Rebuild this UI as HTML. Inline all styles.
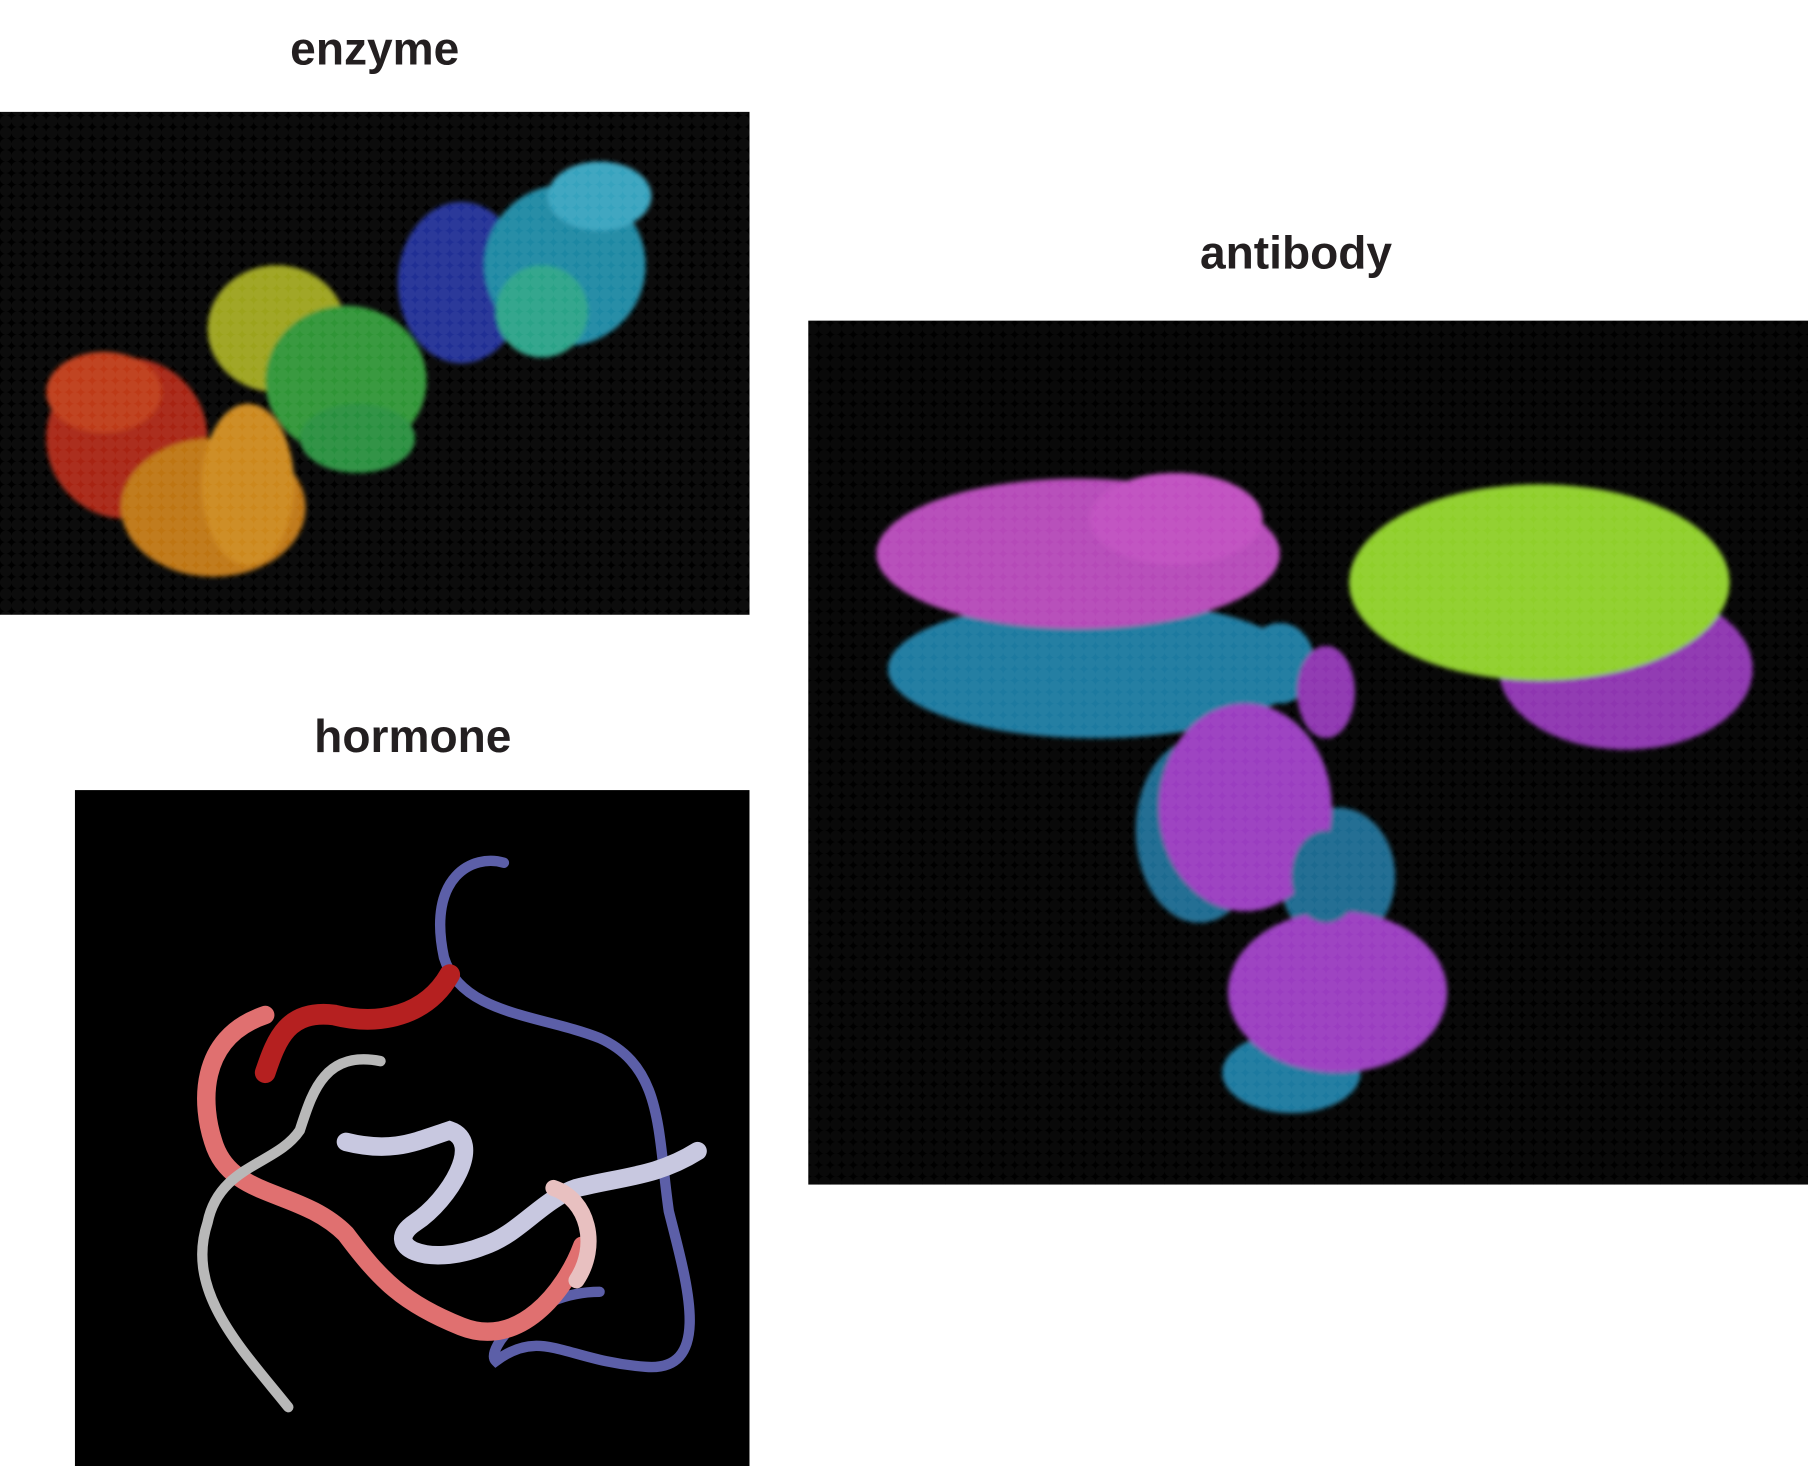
<!DOCTYPE html>
<html><head><meta charset="utf-8"><style>
html,body{margin:0;padding:0;background:#fff;}
svg{display:block;}
</style></head><body>
<svg width="1808" height="1466" viewBox="0 0 1568 1271" preserveAspectRatio="none" xmlns="http://www.w3.org/2000/svg">
<defs>
<filter id="blur2"><feGaussianBlur stdDeviation="2"/></filter>
<pattern id="dots" width="10" height="10" patternUnits="userSpaceOnUse"><circle cx="5" cy="5" r="5" fill="rgba(255,255,255,0.12)"/></pattern>
</defs>
<text x="325" y="56" text-anchor="middle" font-family="Liberation Sans, sans-serif" font-weight="bold" font-size="40" fill="#231f20">enzyme</text>
<text x="358" y="652" text-anchor="middle" font-family="Liberation Sans, sans-serif" font-weight="bold" font-size="40" fill="#231f20">hormone</text>
<text x="1124" y="233" text-anchor="middle" font-family="Liberation Sans, sans-serif" font-weight="bold" font-size="40" fill="#231f20">antibody</text>

<g>
<rect x="0" y="97" width="650" height="436" fill="#000"/>
<g filter="url(#blur2)" opacity="0.85">
<ellipse cx="110" cy="380" rx="70" ry="70" fill="#c62a12"/>
<ellipse cx="90" cy="340" rx="50" ry="35" fill="#e0441a"/>
<ellipse cx="185" cy="440" rx="80" ry="60" fill="#e08a16"/>
<ellipse cx="215" cy="420" rx="40" ry="70" fill="#f0a020"/>
<ellipse cx="240" cy="285" rx="60" ry="55" fill="#b8c020"/>
<ellipse cx="300" cy="330" rx="70" ry="65" fill="#38b040"/>
<ellipse cx="310" cy="380" rx="50" ry="30" fill="#2ea84a"/>
<ellipse cx="400" cy="245" rx="55" ry="70" fill="#2838b0"/>
<ellipse cx="490" cy="230" rx="70" ry="70" fill="#20a0c0"/>
<ellipse cx="520" cy="170" rx="45" ry="30" fill="#40c0e0"/>
<ellipse cx="470" cy="270" rx="40" ry="40" fill="#30c0a0"/>
</g>
<rect x="0" y="97" width="650" height="436" fill="url(#dots)" opacity="0.4"/>
</g>

<g>
<rect x="65" y="685" width="585" height="586" fill="#000"/>
<g fill="none" stroke-linecap="round">
<path d="M437 748 C410 740 370 760 385 830 C400 880 470 880 520 900 C575 925 570 980 580 1050 C595 1110 620 1190 560 1185 C490 1180 470 1150 430 1180 C420 1170 460 1120 520 1120" stroke="#5c5fa8" stroke-width="9"/>
<path d="M390 845 C370 880 330 890 290 880 C250 875 240 900 230 930" stroke="#b52020" stroke-width="18"/>
<path d="M230 880 C170 900 175 960 185 990 C200 1040 260 1030 300 1070 C330 1110 350 1130 400 1150 C450 1170 490 1120 505 1080" stroke="#e07070" stroke-width="16"/>
<path d="M330 920 C280 910 270 950 260 980 C240 1010 190 1010 180 1060 C160 1120 210 1170 250 1220" stroke="#b8b8b8" stroke-width="9"/>
<path d="M300 990 C340 1000 360 990 390 980 C420 990 390 1040 360 1060 C330 1080 370 1100 420 1080 C450 1070 470 1040 500 1030 C540 1020 570 1020 605 998" stroke="#c8c8e0" stroke-width="16"/>
<path d="M480 1030 C510 1040 520 1080 500 1110" stroke="#e8c0c0" stroke-width="14"/>
</g>
</g>

<g>
<rect x="701" y="278" width="867" height="749" fill="#000"/>
<g filter="url(#blur2)">
<ellipse cx="950" cy="580" rx="180" ry="60" fill="#1d7aa0"/>
<ellipse cx="1110" cy="575" rx="30" ry="35" fill="#1d7aa0"/>
<ellipse cx="935" cy="480" rx="175" ry="65" fill="#b548b8"/>
<ellipse cx="1020" cy="450" rx="75" ry="40" fill="#c050c0"/>
<ellipse cx="1410" cy="580" rx="110" ry="70" fill="#8e35b0"/>
<ellipse cx="1335" cy="505" rx="165" ry="85" fill="#8fcf2a"/>
<ellipse cx="1150" cy="600" rx="25" ry="40" fill="#8e35b0"/>
<ellipse cx="1160" cy="760" rx="50" ry="60" fill="#1d6a90"/>
<ellipse cx="1040" cy="720" rx="55" ry="80" fill="#1d6a90"/>
<ellipse cx="1120" cy="930" rx="60" ry="35" fill="#1d7aa0"/>
<ellipse cx="1080" cy="700" rx="75" ry="90" fill="#9a3cc0"/>
<ellipse cx="1160" cy="860" rx="95" ry="70" fill="#9a3cc0"/>
<ellipse cx="1150" cy="760" rx="30" ry="40" fill="#1d6a90"/>
</g>
<rect x="701" y="278" width="867" height="749" fill="url(#dots)" opacity="0.3"/>
</g>
</svg>
</body></html>
